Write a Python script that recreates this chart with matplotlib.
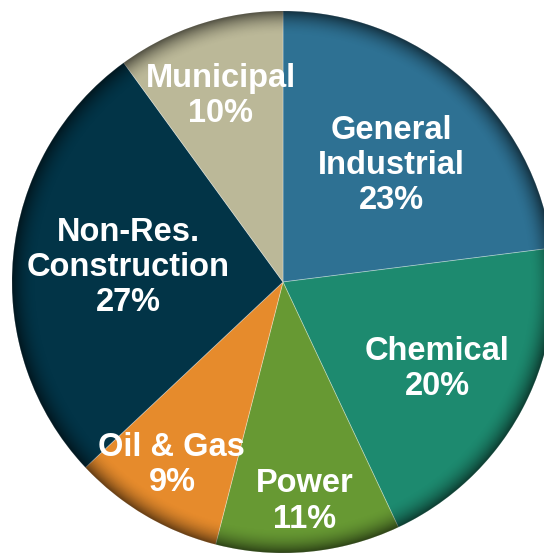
import numpy as np
import matplotlib
matplotlib.use("Agg")
import matplotlib.pyplot as plt
from matplotlib.patches import Circle

# market split, clockwise from 12 o'clock
labels = ["General\nIndustrial", "Chemical", "Power", "Oil & Gas",
          "Non-Res.\nConstruction", "Municipal"]
shares = [23, 20, 11, 9, 27, 10]
colors = ["#2e7193", "#1d8a6f", "#679933", "#e68b2c", "#023447", "#bbb898"]

# label centres in pie units (x, y)
label_pos = [(0.40, 0.43), (0.57, -0.32), (0.08, -0.81),
             (-0.41, -0.675), (-0.57, 0.055), (-0.23, 0.685)]

fig = plt.figure(figsize=(5.44, 5.54), dpi=100)
ax = fig.add_axes([0, 0, 1, 1])

R = 1.0
cx_px, cy_px, r_px = 283, 282, 271

wedges, _ = ax.pie(shares, colors=colors, startangle=90, counterclock=False,
                   radius=R, center=(0, 0), frame=True,
                   wedgeprops=dict(edgecolor=(1, 1, 1, 0.35), linewidth=0.6))
ax.set_xlim(-cx_px / r_px, (544 - cx_px) / r_px)
ax.set_ylim(-(554 - cy_px) / r_px, cy_px / r_px)
ax.set_aspect("equal")
ax.axis("off")

# dark rim shading
n = 600
xs = np.linspace(-1, 1, n)
X, Y = np.meshgrid(xs, xs)
rr = np.sqrt(X**2 + Y**2)
alpha = np.clip((rr - 0.91) / 0.09, 0, 1) ** 2 * 0.55
shade = np.zeros((n, n, 4))
shade[..., 3] = alpha
im = ax.imshow(shade, extent=(-1, 1, -1, 1), origin="lower", zorder=3,
               interpolation="bilinear")
im.set_clip_path(Circle((0, 0), R, transform=ax.transData))

for lab, s, (x, y) in zip(labels, shares, label_pos):
    ax.text(x, y, f"{lab}\n{s}%", ha="center", va="center", color="white",
            fontsize=23.5, fontweight="bold", family="Liberation Sans",
            linespacing=1.17, zorder=4)

fig.savefig("out.png", dpi=100)
